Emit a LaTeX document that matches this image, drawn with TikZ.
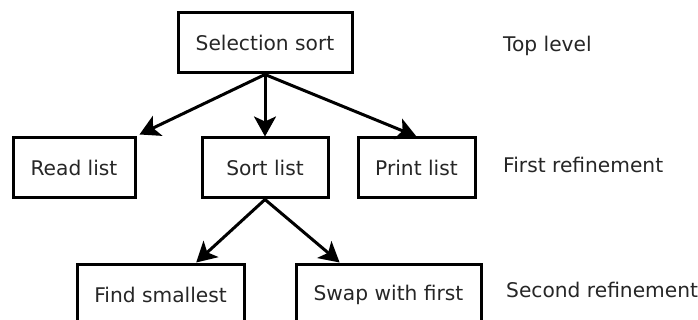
\documentclass[tikz,border=0pt]{standalone}
\usepackage{fontspec}
\setmainfont{DejaVu Sans}
\usetikzlibrary{arrows.meta,calc}
\tikzset{
  box/.style={draw=black, line width=3pt, rectangle, inner sep=0pt,
    text=black!85, font=\fontsize{20.2}{23}\selectfont},
  levellabel/.style={anchor=base west, inner sep=0pt, text=black!85,
    font=\fontsize{20.2}{23}\selectfont},
  link/.style={line width=3pt, -{Stealth[length=20pt, width=22pt, inset=5pt]}}
}
\begin{document}
\begin{tikzpicture}[x=1pt, y=-1pt]
  \useasboundingbox[fill=white] (0,0) rectangle (698,320);

  % top level
  \node[box, minimum width=174pt, minimum height=60pt] (sel) at (265,43) {Selection sort};

  % first refinement
  \node[box, minimum width=122pt, minimum height=60pt] (read) at (74,168) {Read list};
  \node[box, minimum width=126pt, minimum height=60pt] (sortl) at (265,168) {Sort list};
  \node[box, minimum width=117pt, minimum height=60pt] (print) at (416.5,168) {Print list};

  % second refinement (boxes run past the lower edge)
  \node[box, minimum width=167pt, minimum height=62pt] (find) at (160.5,295) {Find smallest};
  \node[box, minimum width=185pt, minimum height=62pt] (swap) at (388.5,295) {Swap with first};

  % level captions
  \node[levellabel] (l1) at (503,52) {Top level};
  \node[levellabel] (l2) at (503,173) {First refinement};
  \node[levellabel] (l3) at (506,297) {Second refinement};

  % connectors
  \draw[link] (sel.south) -- ($(read.north east)+(3,-2)$);
  \draw[link] (sel.south) -- (sortl.north);
  \draw[link] (sel.south) -- (print.north);
  \draw[link] (sortl.south) -- ($(find.north west)!0.71!(find.north east)$);
  \draw[link] (sortl.south) -- ($(swap.north west)!0.24!(swap.north east)$);
\end{tikzpicture}
\end{document}
